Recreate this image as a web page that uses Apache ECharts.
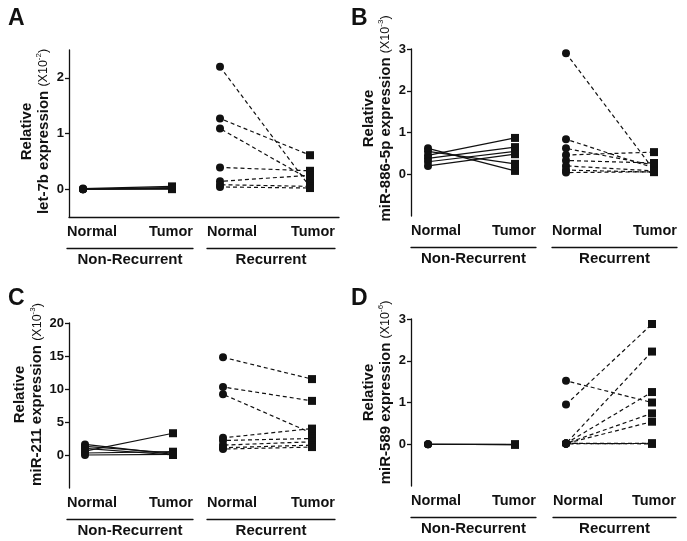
<!DOCTYPE html>
<html lang="en">
  <head>
    <meta charset="UTF-8" />
    <title>Paired expression</title>
    <script src="https://cdn.jsdelivr.net/npm/echarts@6/dist/echarts.min.js"></script>
    <style>
      html, body { margin: 0; padding: 0; background: #fff; }
      #chart { width: 687px; height: 541px; }
    </style>
  </head>
  <body>
    <div id="chart"></div>
    <script>
      // categories
      const conditions = ['Normal', 'Tumor']
      const groups = ['Non-Recurrent', 'Recurrent']
      const letters = ['A', 'B', 'C', 'D']
      const genes = ['let-7b', 'miR-886-5p', 'miR-211', 'miR-589']
      const exponents = ['-2', '-3', '-3', '-6']

      // y axis ranges and tick labels
      const yMin = [-0.5, -1, -5, -1]
      const yMax = [2.5, 3, 20, 3]
      const yTickA = [0, 1, 2]
      const yTickB = [0, 1, 2, 3]
      const yTickC = [0, 5, 10, 15, 20]
      const yTickD = [0, 1, 2, 3]

      // paired values (normal -> tumor), one pair per patient
      const aNonRecNormal = [0.01, 0.0, 0.0, 0.0, 0.0]
      const aNonRecTumor = [0.05, 0.03, 0.01, 0.0, 0.02]
      const aRecNormal = [2.2, 1.27, 1.09, 0.39, 0.14, 0.08, 0.04]
      const aRecTumor = [0.04, 0.61, 0.17, 0.33, 0.25, 0.05, 0.02]

      const bNonRecNormal = [0.62, 0.55, 0.45, 0.38, 0.3, 0.2]
      const bNonRecTumor = [0.08, 0.25, 0.87, 0.65, 0.55, 0.48]
      const bRecNormal = [2.9, 0.84, 0.62, 0.46, 0.33, 0.2, 0.1, 0.04]
      const bRecTumor = [0.1, 0.15, 0.22, 0.53, 0.27, 0.08, 0.05, 0.06]

      const cNonRecNormal = [1.6, 1.3, 1.0, 0.6, 0.3, 0.0]
      const cNonRecTumor = [0.1, 0.3, 0.0, 3.3, 0.5, 0.1]
      const cRecNormal = [14.8, 10.3, 9.2, 2.6, 2.2, 1.5, 1.1, 0.9]
      const cRecTumor = [11.5, 8.2, 3.3, 4.0, 2.5, 2.0, 1.5, 1.2]

      const dNonRecNormal = [0, 0, 0]
      const dNonRecTumor = [-0.01, -0.01, 0]
      const dRecNormal = [0.95, 1.52, 0.02, 0.02, 0.02, 0.02, 0.02, 0.01, 0.02]
      const dRecTumor = [2.88, 1.0, 2.22, 1.25, 0.74, 0.54, 0.02, 0.02, 0.01]

      const yTicks = [yTickA, yTickB, yTickC, yTickD]
      const values = [
        [aNonRecNormal, aNonRecTumor, aRecNormal, aRecTumor],
        [bNonRecNormal, bNonRecTumor, bRecNormal, bRecTumor],
        [cNonRecNormal, cNonRecTumor, cRecNormal, cRecTumor],
        [dNonRecNormal, dNonRecTumor, dRecNormal, dRecTumor]
      ]

      // layout of each panel (pixels)
      const layout = [
        { ox: 69, top: 50, h: 167, nx: [83, 172], rx: [220, 310], ln: [67, 193], lr: [207, 335], shift: 4, xline: true },
        { ox: 411, top: 49, h: 167, nx: [428, 515], rx: [566, 654], ln: [411, 536], lr: [552, 677], shift: 28, xline: false },
        { ox: 69, top: 323, h: 165, nx: [85, 173], rx: [223, 312], ln: [67, 193], lr: [207, 335], shift: 22, xline: false },
        { ox: 411, top: 319, h: 167, nx: [428, 515], rx: [566, 652], ln: [411, 536], lr: [553, 676], shift: 20, xline: false }
      ]

      const font = 'Liberation Sans, Arial, Helvetica, sans-serif'
      const ink = '#111'
      const grid = [], xAxis = [], yAxis = [], series = [], title = []

      function hiddenY(p) {
        return { type: 'value', gridIndex: grid.length - 1, min: yMin[p], max: yMax[p], show: false }
      }

      layout.forEach((L, p) => {
        title.push({
          text: letters[p], left: p % 2 ? 346 : 3, top: p < 2 ? 2 : 282,
          textStyle: { fontFamily: font, fontSize: 23, fontWeight: 'bold', color: ink }
        })

        // frame with the visible y axis
        grid.push({ left: L.ox, top: L.top, width: 270, height: L.h })
        let g = grid.length - 1
        xAxis.push({
          type: 'value', gridIndex: g, min: 0, max: 1,
          axisLine: { show: L.xline, onZero: false, lineStyle: { color: ink, width: 1.3 } },
          axisTick: { show: false }, axisLabel: { show: false }, splitLine: { show: false }
        })
        yAxis.push({
          type: 'value', gridIndex: g, min: yMin[p], max: yMax[p],
          axisLine: { show: true, onZero: false, lineStyle: { color: ink, width: 1.3 } },
          axisTick: { show: true, length: 4, customValues: yTicks[p], lineStyle: { color: ink, width: 1.3 } },
          axisLabel: {
            customValues: yTicks[p], margin: 5, color: ink,
            fontFamily: font, fontSize: 13, fontWeight: 'bold'
          },
          splitLine: { show: false },
          name: 'Relative\n{b|' + genes[p] + ' expression }{n|(X10}{s|' + exponents[p] + '}{n|)}',
          nameLocation: 'middle', nameRotate: 90, nameGap: 17,
          nameTextStyle: {
            fontFamily: font, fontSize: 15, fontWeight: 'bold', color: ink,
            lineHeight: 17, padding: [0, 0, 0, L.shift],
            rich: {
              b: { fontFamily: font, fontSize: 15, fontWeight: 'bold', color: ink, lineHeight: 17 },
              n: { fontFamily: font, fontSize: 12.5, fontWeight: 'normal', color: ink, lineHeight: 17 },
              s: { fontFamily: font, fontSize: 8, fontWeight: 'normal', color: ink, verticalAlign: 'top', lineHeight: 17 }
            }
          }
        })

        // data grids: non-recurrent (solid) and recurrent (dashed)
        ;[L.nx, L.rx].forEach((xs, k) => {
          grid.push({ left: xs[0], top: L.top, width: xs[1] - xs[0], height: L.h })
          g = grid.length - 1
          xAxis.push({ type: 'category', gridIndex: g, data: conditions, boundaryGap: false, show: false })
          yAxis.push(hiddenY(p))
          const normals = values[p][k * 2]
          const tumors = values[p][k * 2 + 1]
          normals.forEach((v, i) => {
            series.push({
              type: 'line', xAxisIndex: xAxis.length - 1, yAxisIndex: yAxis.length - 1,
              data: [v, tumors[i]],
              symbol: (val, params) => (params.dataIndex === 0 ? 'circle' : 'rect'),
              symbolSize: 8,
              itemStyle: { color: ink },
              lineStyle: {
                color: ink, width: 1.2,
                type: k === 0 ? 'solid' : [4, 3],
                dashOffset: (i * 2.5) % 7
              },
              silent: true
            })
          })
        })

        // condition labels over an underline, group label below
        ;[L.ln, L.lr].forEach((xs, k) => {
          grid.push({ left: xs[0], top: L.top + L.h + 30, width: xs[1] - xs[0], height: 1 })
          g = grid.length - 1
          xAxis.push({
            type: 'category', gridIndex: g, position: 'top', data: conditions, boundaryGap: false,
            axisLine: { show: true, lineStyle: { color: ink, width: 1.3 } },
            axisTick: { show: false },
            axisLabel: {
              interval: 0, margin: 8, color: ink, fontFamily: font, fontSize: 14.5, fontWeight: 'bold',
              alignMinLabel: 'left', alignMaxLabel: 'right'
            }
          })
          xAxis.push({
            type: 'category', gridIndex: g, position: 'bottom', data: [groups[k]], boundaryGap: true,
            axisLine: { show: false }, axisTick: { show: false },
            axisLabel: { interval: 0, margin: 4, color: ink, fontFamily: font, fontSize: 15, fontWeight: 'bold' }
          })
          yAxis.push(hiddenY(p))
        })
      })

      const chart = echarts.init(document.getElementById('chart'))
      chart.setOption({
        backgroundColor: '#fff',
        animation: false,
        title,
        grid,
        xAxis,
        yAxis,
        series
      })
    </script>
  </body>
</html>
